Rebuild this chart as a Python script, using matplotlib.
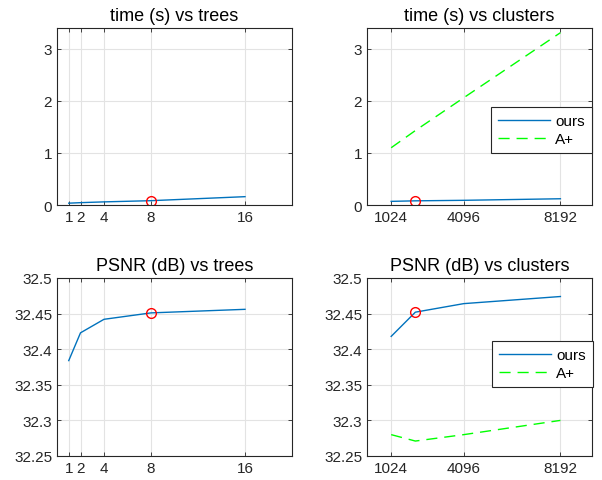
import numpy as np
import matplotlib.pyplot as plt

plt.rcParams['font.family'] = ['Liberation Sans', 'DejaVu Sans']

# data
trees = [1, 2, 4, 8, 16]
clusters = [1024, 2048, 4096, 8192]
time_trees = [0.035, 0.045, 0.06, 0.083, 0.16]
time_clusters_ours = [0.07, 0.08, 0.09, 0.12]
time_clusters_aplus = [1.10, 1.43, 2.06, 3.31]
psnr_trees = [32.384, 32.423, 32.442, 32.451, 32.456]
psnr_clusters_ours = [32.418, 32.452, 32.464, 32.474]
psnr_clusters_aplus = [32.280, 32.271, 32.280, 32.300]
chosen_trees = 8
chosen_clusters = 2048

blue = '#0072BD'
green = '#00FF00'
edge = '#262626'

fig = plt.figure(figsize=(6.02, 4.81), dpi=100)
W, H = 602.0, 481.0

def make_ax(l, t, r, b):
    return fig.add_axes([l / W, 1 - b / H, (r - l) / W, (b - t) / H])

def style(ax):
    ax.grid(True, color='#e3e3e3', lw=0.8)
    ax.set_axisbelow(True)
    for s in ax.spines.values():
        s.set_color(edge)
        s.set_linewidth(0.8)
    ax.tick_params(direction='in', length=3, width=0.6, colors=edge,
                   labelcolor='#262626', labelsize=11, top=True, right=True)

ax1 = make_ax(57, 29, 292, 206)
ax2 = make_ax(367, 29, 592, 206)
ax3 = make_ax(57, 279, 292, 457)
ax4 = make_ax(367, 279, 592, 457)

# time vs trees
ax1.plot(trees, time_trees, color=blue, lw=1)
ax1.plot(chosen_trees, time_trees[trees.index(chosen_trees)], 'o', mfc='none', mec='red', ms=7, mew=1)
ax1.set_xlim(0, 20)
ax1.set_ylim(0, 3.4)
ax1.set_xticks(trees)
ax1.set_yticks([0, 1, 2, 3])
ax1.set_title('time (s) vs trees', fontsize=13)

# time vs clusters
ax2.plot(clusters, time_clusters_ours, color=blue, lw=1, label='ours')
ax2.plot(clusters, time_clusters_aplus, '--', color=green, lw=1, dashes=(8, 5), label='A+')
ax2.plot(chosen_clusters, time_clusters_ours[clusters.index(chosen_clusters)], 'o', mfc='none', mec='red', ms=7, mew=1)
ax2.set_xlim(0, 9530)
ax2.set_ylim(0, 3.4)
ax2.set_xticks([1024, 4096, 8192])
ax2.set_yticks([0, 1, 2, 3])
ax2.set_title('time (s) vs clusters', fontsize=13)

# PSNR vs trees
ax3.plot(trees, psnr_trees, color=blue, lw=1)
ax3.plot(chosen_trees, psnr_trees[trees.index(chosen_trees)], 'o', mfc='none', mec='red', ms=7, mew=1)
ax3.set_xlim(0, 20)
ax3.set_ylim(32.25, 32.5)
ax3.set_xticks(trees)
ax3.set_yticks([32.25, 32.3, 32.35, 32.4, 32.45, 32.5])
ax3.set_yticklabels(['32.25', '32.3', '32.35', '32.4', '32.45', '32.5'])
ax3.set_title('PSNR (dB) vs trees', fontsize=13)

# PSNR vs clusters
ax4.plot(clusters, psnr_clusters_ours, color=blue, lw=1, label='ours')
ax4.plot(clusters, psnr_clusters_aplus, '--', color=green, lw=1, dashes=(8, 5), label='A+')
ax4.plot(chosen_clusters, psnr_clusters_ours[clusters.index(chosen_clusters)], 'o', mfc='none', mec='red', ms=7, mew=1)
ax4.set_xlim(0, 9530)
ax4.set_ylim(32.25, 32.5)
ax4.set_xticks([1024, 4096, 8192])
ax4.set_yticks([32.25, 32.3, 32.35, 32.4, 32.45, 32.5])
ax4.set_yticklabels(['32.25', '32.3', '32.35', '32.4', '32.45', '32.5'])
ax4.set_title('PSNR (dB) vs clusters', fontsize=13)

for ax in (ax1, ax2, ax3, ax4):
    style(ax)

# legends placed where the reference has them (pixel boxes)
for ax, (l, t, r, b) in ((ax2, (491, 108, 592, 152)), (ax4, (492, 342, 593, 386))):
    bb = ax.get_position()
    x0 = (l / W - bb.x0) / bb.width
    y1 = ((1 - t / H) - bb.y0) / bb.height
    w = (r - l) / W / bb.width
    leg = ax.legend(loc='upper left', bbox_to_anchor=(x0, y1 - 0.5, w, 0.5),
                    mode='expand', fontsize=11, handlelength=3.4, fancybox=False, framealpha=1,
                    borderaxespad=0, borderpad=0.45, labelspacing=0.3, handletextpad=0.35)
    leg.get_frame().set_edgecolor(edge)
    leg.get_frame().set_linewidth(0.8)

fig.savefig('out.png', dpi=100)
